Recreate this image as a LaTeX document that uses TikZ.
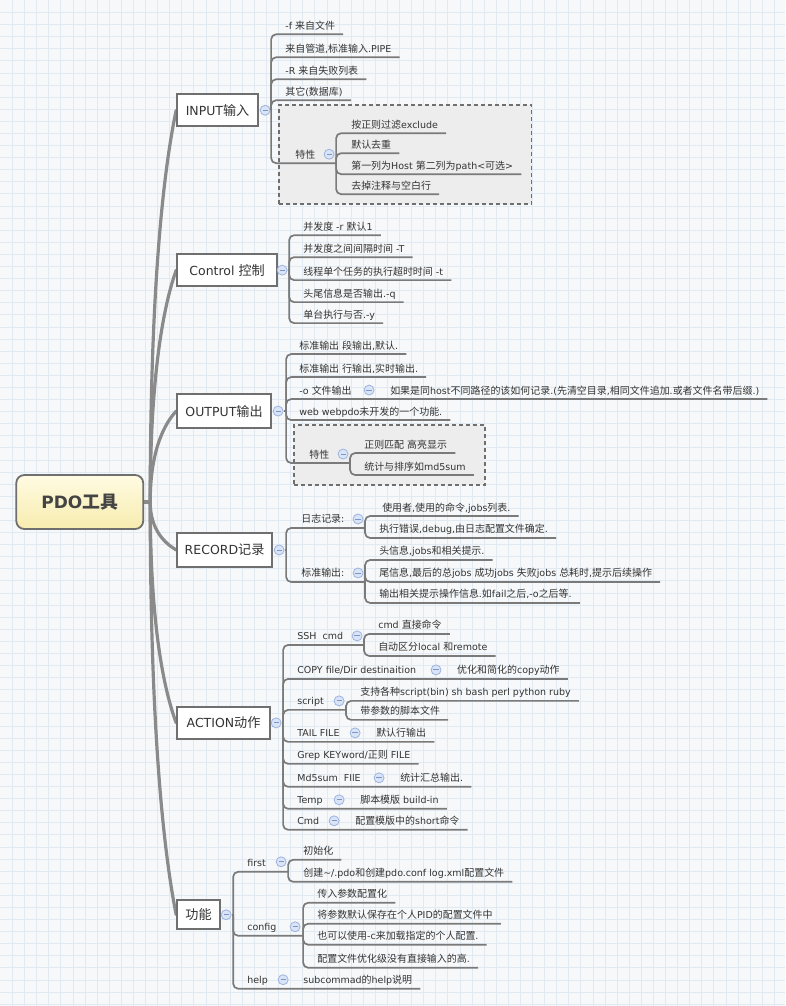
\documentclass[tikz,border=0pt]{standalone}
\usepackage{fontspec}
\setmainfont{DejaVu Sans}
\newfontfamily\cjkf{Noto Sans CJK SC}[Scale=1.05]
\XeTeXinterchartokenstate=1
\newXeTeXintercharclass\cjkcls
\newcount\cjkcnt
\cjkcnt="4E00
\loop
  \XeTeXcharclass\cjkcnt=\cjkcls
  \advance\cjkcnt by 1
\ifnum\cjkcnt<"A000 \repeat
\XeTeXinterchartoks 0 \cjkcls = {\begingroup\cjkf}
\XeTeXinterchartoks 4095 \cjkcls = {\begingroup\cjkf}
\XeTeXinterchartoks \cjkcls 0 = {\endgroup}
\XeTeXinterchartoks \cjkcls 4095 = {\endgroup}

\definecolor{lnc}{HTML}{7A7A7A}
\definecolor{spc}{HTML}{8A8A8A}
\definecolor{txtc}{HTML}{333333}
\definecolor{boxc}{HTML}{6F6F6F}
\definecolor{togf}{HTML}{D9E4F6}
\definecolor{togd}{HTML}{9DB3E0}
\definecolor{togm}{HTML}{7D95C8}
\definecolor{dbf}{HTML}{EDEDED}
\definecolor{bgc}{HTML}{F7F8F9}
\definecolor{grc}{HTML}{E1EAF2}
\definecolor{rtop}{HTML}{FFFBE3}
\definecolor{rbot}{HTML}{F7ECAE}
\definecolor{rootc}{HTML}{444444}

\pgfdeclarelayer{bg}
\pgfsetlayers{bg,main}

\newcommand\myitem[4]{\node[item] (#1) at (#2,#3-5) {#4};}
\newcommand\myline[2]{\draw[ln] (#1) |- ([shift={(8pt,-5pt)}]#2.base east);}

\begin{document}
\begin{tikzpicture}[x=1pt,y=-1pt,
  ln/.style={draw=lnc, line width=1.7pt, rounded corners=5pt},
  spine/.style={draw=spc, line width=3.2pt, line cap=round},
  item/.style={anchor=base west, inner sep=0pt, font=\fontsize{9.5}{11}\selectfont, text=txtc},
  topic/.style={draw=boxc, line width=1.8pt, fill=white, font=\fontsize{12.5}{15}\selectfont, text=txtc, minimum height=32pt, inner sep=0pt, anchor=west},
  rootbox/.style={draw=boxc, line width=1.8pt, rounded corners=8pt, top color=rtop, bottom color=rbot, minimum width=127pt, minimum height=54pt, font=\bfseries\fontsize{17}{20}\selectfont, text=rootc},
  tog/.style={circle, draw=togd, fill=togf, line width=0.8pt, minimum size=10pt, inner sep=0pt,
    path picture={\draw[togm, line width=0.9pt] ([xshift=-2.6pt]path picture bounding box.center) -- ([xshift=2.6pt]path picture bounding box.center);}},
  dbox/.style={draw=boxc, dash pattern=on 4pt off 3pt, line width=1.5pt, fill=dbf, anchor=north west, inner sep=0pt},
]
\begin{pgfonlayer}{bg}
\fill[bgc] (0,0) rectangle (785,1006);
\foreach \g in {1,...,64} { \draw[grc, line width=0.6pt] (\g*12.1,0) -- (\g*12.1,1006); }
\foreach \g in {1,...,83} { \draw[grc, line width=0.6pt] (0,\g*12.1) -- (785,\g*12.1); }
\end{pgfonlayer}
\useasboundingbox (0,0) rectangle (785,1006);

% root and main topics
\node[rootbox] (root) at (79.5,502) {PDO工具};
\coordinate (rj) at (150,502);
\node[topic, minimum width=81pt] (tIn) at (176,110) {INPUT输入};
\node[topic, minimum width=100pt] (tCt) at (176,270) {Control 控制};
\node[topic, minimum width=94pt, minimum height=34pt] (tOu) at (176,411) {OUTPUT输出};
\node[topic, minimum width=95pt, minimum height=34pt] (tRe) at (176,550) {RECORD记录};
\node[topic, minimum width=93pt] (tAc) at (176,723) {ACTION动作};
\node[topic, minimum width=43pt, minimum height=29pt] (tFn) at (176,915) {功能};

\begin{pgfonlayer}{bg}
\draw[spine] (root.east) -- (rj);
\draw[spine] (rj) .. controls (150,267) and (166,157) .. (tIn.west);
\draw[spine] (rj) .. controls (150,363) and (166,298) .. (tCt.west);
\draw[spine] (rj) .. controls (150,447) and (166,422) .. (tOu.west);
\draw[spine] (rj) .. controls (150,531) and (166,544) .. (tRe.west);
\draw[spine] (rj) .. controls (150,635) and (166,696) .. (tAc.west);
\draw[spine] (rj) .. controls (150,750) and (166,865) .. (tFn.west);
\end{pgfonlayer}

% ---------------- INPUT
\node[dbox, minimum width=253pt, minimum height=99pt] (fbIn) at (278,104) {};
\node[tog] (cIn) at (265,110) {};
\coordinate (jIn) at (271,110);
\draw[ln] (cIn) -- (jIn);
\myitem{i1}{285}{34}{-f 来自文件}
\myitem{i2}{285}{57}{来自管道,标准输入.PIPE}
\myitem{i3}{285}{79}{-R 来自失败列表}
\myitem{i4}{285}{100}{其它(数据库)}
\myitem{i5}{295}{163}{特性}
\myline{jIn}{i1}\myline{jIn}{i2}\myline{jIn}{i3}\myline{jIn}{i4}
\node[tog] (ci5) at (329,154) {};
\coordinate (ji5) at (336,163);
\draw[ln] (jIn) |- (ji5);
\myitem{s1}{351}{133}{按正则过滤exclude}
\myitem{s2}{351}{153}{默认去重}
\myitem{s3}{351}{174}{第一列为Host 第二列为path<可选>}
\myitem{s4}{351}{194}{去掉注释与空白行}
\myline{ji5}{s1}\myline{ji5}{s2}\myline{ji5}{s3}\myline{ji5}{s4}

% ---------------- Control
\node[tog] (cCt) at (282,270) {};
\coordinate (jCt) at (289,270);
\draw[ln] (cCt) -- (jCt);
\myitem{c1}{303}{235}{并发度 -r 默认1}
\myitem{c2}{303}{257}{并发度之间间隔时间 -T}
\myitem{c3}{303}{280}{线程单个任务的执行超时时间 -t}
\myitem{c4}{303}{302}{头尾信息是否输出.-q}
\myitem{c5}{303}{323}{单台执行与否.-y}
\myline{jCt}{c1}\myline{jCt}{c2}\myline{jCt}{c3}\myline{jCt}{c4}\myline{jCt}{c5}

% ---------------- OUTPUT
\node[dbox, minimum width=191pt, minimum height=60pt] (fbOu) at (293,424) {};
\node[tog] (cOu) at (278,411) {};
\coordinate (jOu) at (286,411);
\draw[ln] (cOu) -- (jOu);
\myitem{o1}{299}{354}{标准输出 段输出,默认.}
\myitem{o2}{299}{377}{标准输出 行输出,实时输出.}
\myitem{o3}{299}{399}{-o 文件输出}
\node[tog] (co3) at (369,390) {};
\myitem{o3a}{390}{399}{如果是同host不同路径的该如何记录.(先清空目录,相同文件追加.或者文件名带后缀.)}
\myitem{o4}{299}{420}{web webpdo未开发的一个功能.}
\myline{jOu}{o1}\myline{jOu}{o2}\myline{jOu}{o3a}\myline{jOu}{o4}
\myitem{o5}{309}{463}{特性}
\node[tog] (co5) at (343,454) {};
\coordinate (jo5) at (350,463);
\draw[ln] (jOu) |- (jo5);
\myitem{p1}{364}{453}{正则匹配 高亮显示}
\myitem{p2}{364}{475}{统计与排序如md5sum}
\myline{jo5}{p1}\myline{jo5}{p2}

% ---------------- RECORD
\node[tog] (cRe) at (279,550) {};
\coordinate (jRe) at (286,550);
\draw[ln] (cRe) -- (jRe);
\myitem{r1}{301}{528}{日志记录:}
\node[tog] (cr1) at (358,519) {};
\coordinate (jr1) at (365,528);
\draw[ln] (jRe) |- (jr1);
\myitem{r1a}{382}{516}{使用者,使用的命令,jobs列表.}
\myitem{r1b}{379}{538}{执行错误,debug,由日志配置文件确定.}
\myline{jr1}{r1a}\myline{jr1}{r1b}
\myitem{r2}{301}{582}{标准输出:}
\node[tog] (cr2) at (358,573) {};
\coordinate (jr2) at (365,582);
\draw[ln] (jRe) |- (jr2);
\myitem{r2a}{379}{560}{头信息,jobs和相关提示.}
\myitem{r2b}{379}{582}{尾信息,最后的总jobs 成功jobs 失败jobs 总耗时,提示后续操作}
\myitem{r2c}{379}{603}{输出相关提示操作信息.如fail之后,-o之后等.}
\myline{jr2}{r2a}\myline{jr2}{r2b}\myline{jr2}{r2c}

% ---------------- ACTION
\node[tog] (cAc) at (276,723) {};
\coordinate (jAc) at (283,723);
\draw[ln] (cAc) -- (jAc);
\myitem{a1}{297}{645}{SSH\ \ cmd}
\node[tog] (ca1) at (357,636) {};
\coordinate (ja1) at (364,645);
\draw[ln] (jAc) |- (ja1);
\myitem{a1a}{378}{634}{cmd 直接命令}
\myitem{a1b}{378}{656}{自动区分local 和remote}
\myline{ja1}{a1a}\myline{ja1}{a1b}
\myitem{a2}{297}{679}{COPY file/Dir destinaition}
\node[tog] (ca2) at (436,670) {};
\myitem{a2a}{457}{679}{优化和简化的copy动作}
\myline{jAc}{a2a}
\myitem{a3}{297}{710}{script}
\node[tog] (ca3) at (339,701) {};
\coordinate (ja3) at (346,710);
\draw[ln] (jAc) |- (ja3);
\myitem{a3a}{360}{701}{支持各种script(bin) sh bash perl python ruby}
\myitem{a3b}{360}{720}{带参数的脚本文件}
\myline{ja3}{a3a}\myline{ja3}{a3b}
\myitem{a4}{297}{742}{TAIL FILE}
\node[tog] (ca4) at (355,733) {};
\myitem{a4a}{376}{742}{默认行输出}
\myline{jAc}{a4a}
\myitem{a5}{297}{764}{Grep KEYword/正则 FILE}
\myline{jAc}{a5}
\myitem{a6}{297}{787}{Md5sum\ \ FIlE}
\node[tog] (ca6) at (379,778) {};
\myitem{a6a}{400}{787}{统计汇总输出.}
\myline{jAc}{a6a}
\myitem{a7}{297}{809}{Temp}
\node[tog] (ca7) at (339,800) {};
\myitem{a7a}{360}{809}{脚本模版 build-in}
\myline{jAc}{a7a}
\myitem{a8}{297}{830}{Cmd}
\node[tog] (ca8) at (334,821) {};
\myitem{a8a}{355}{830}{配置模版中的short命令}
\myline{jAc}{a8a}

% ---------------- 功能
\node[tog] (cFn) at (226,915) {};
\coordinate (jFn) at (233,915);
\draw[ln] (cFn) -- (jFn);
\myitem{f1}{247}{872}{first}
\node[tog] (cf1) at (281,862) {};
\coordinate (jf1) at (288,872);
\draw[ln] (jFn) |- (jf1);
\myitem{f1a}{303}{860}{初始化}
\myitem{f1b}{303}{882}{创建\textasciitilde/.pdo和创建pdo.conf log.xml配置文件}
\myline{jf1}{f1a}\myline{jf1}{f1b}
\myitem{f2}{247}{936}{config}
\node[tog] (cf2) at (295,927) {};
\coordinate (jf2) at (303,936);
\draw[ln] (jFn) |- (jf2);
\myitem{f2a}{317}{903}{传入参数配置化}
\myitem{f2b}{317}{924}{将参数默认保存在个人PID的配置文件中}
\myitem{f2c}{317}{945}{也可以使用-c来加载指定的个人配置.}
\myitem{f2d}{317}{968}{配置文件优化级没有直接输入的高.}
\myline{jf2}{f2a}\myline{jf2}{f2b}\myline{jf2}{f2c}\myline{jf2}{f2d}
\myitem{f3}{247}{989}{help}
\node[tog] (cf3) at (283,980) {};
\myitem{f3a}{303}{989}{subcommad的help说明}
\myline{jFn}{f3a}
\end{tikzpicture}
\end{document}
